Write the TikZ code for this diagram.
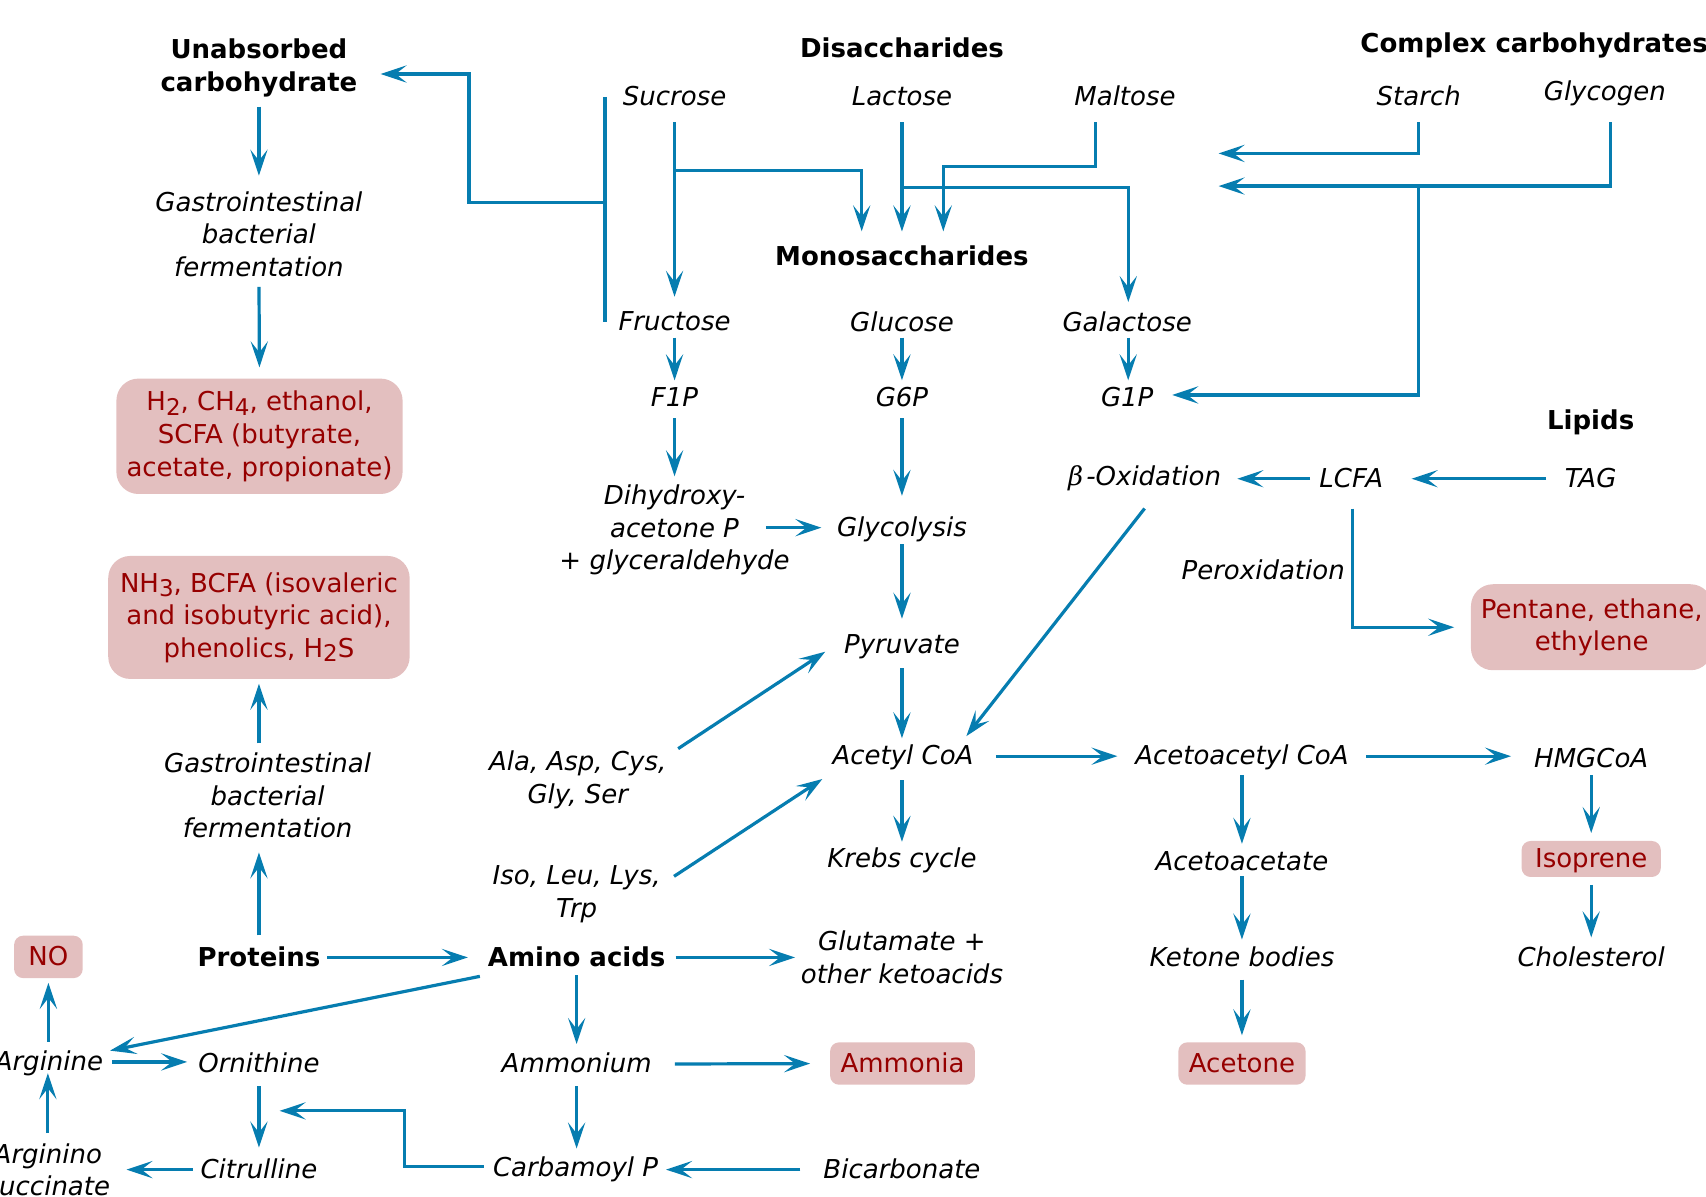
\documentclass[tikz,border=0pt]{standalone}
\usepackage{fontspec}
\setmainfont{DejaVu Sans}
\newfontfamily\dvserif{DejaVu Serif}
\usetikzlibrary{arrows.meta,calc}
\definecolor{ablue}{RGB}{6,125,176}
\definecolor{boxfill}{RGB}{227,191,191}
\definecolor{boxtext}{RGB}{150,0,0}
\newcommand\dfsize{\fontsize{13pt}{16.3pt}\selectfont}
\newcommand\lowidx[1]{\raisebox{-2.2pt}{\fontsize{11.5pt}{11.5pt}\selectfont #1}}
\tikzset{
 arr/.style={draw=ablue, line width=1.6pt, -{Stealth[length=13pt,width=8.6pt,inset=5.5pt]}},
 ln/.style={draw=ablue, line width=1.6pt},
 lab/.style={font=\dfsize\itshape, inner sep=0pt, text height=9.8pt, text depth=1.08pt},
 mlab/.style={font=\dfsize\itshape, inner sep=0pt, align=center},
 hd/.style={font=\dfsize\bfseries, inner sep=0pt, text height=9.8pt, text depth=1.08pt},
 mhd/.style={font=\dfsize\bfseries, inner sep=0pt, align=center},
 rbox/.style={font=\dfsize, fill=boxfill, text=boxtext, rounded corners=11pt, inner sep=0pt, align=center},
 sbox/.style={font=\dfsize, fill=boxfill, text=boxtext, rounded corners=4.5pt, inner sep=0pt, text height=9.8pt, text depth=1.08pt, minimum height=21.2pt},
}
\begin{document}
\begin{tikzpicture}[x=0.544pt,y=-0.544pt]
\useasboundingbox (0,0) rectangle (1568,1100);
% headers
\node[mhd] (unab) at (238,62.5) {Unabsorbed\\carbohydrate};
\node[hd] (disacc) at (829,45) {Disaccharides};
\node[hd] (complex) at (1410,40) {Complex carbohydrates};
\node[hd] (mono) at (829,236) {Monosaccharides};
\node[hd] (lipids) at (1462,387) {Lipids};
\node[hd] (prot) at (238,880) {Proteins};
\node[hd] (amino) at (530,880) {Amino acids};
% labels
\node[lab] (suc) at (620,89) {Sucrose};
\node[lab] (lac) at (829,89) {Lactose};
\node[lab] (mal) at (1034,89) {Maltose};
\node[lab] (sta) at (1304,89) {Starch};
\node[lab] (glyc) at (1475,84) {Glycogen};
\node[mlab] (gast1) at (238,215) {Gastrointestinal\\bacterial\\fermentation};
\node[lab] (fru) at (620,296) {Fructose};
\node[lab] (glu) at (829,297) {Glucose};
\node[lab] (gal) at (1036,297) {Galactose};
\node[lab] (f1p) at (620,366) {F1P};
\node[lab] (g6p) at (829,366) {G6P};
\node[lab] (g1p) at (1036,366) {G1P};
\node[lab] (box) at (1052,438) {{\dvserif\itshape β}\kern1.5pt-Oxidation};
\node[lab] (lcfa) at (1242,440) {LCFA};
\node[lab] (tag) at (1462,440) {TAG};
\node[mlab] (dih) at (620,487) {Dihydroxy-\\acetone P\\+ glyceraldehyde};
\node[lab] (glyl) at (829,485) {Glycolysis};
\node[lab] (perox) at (1161,525) {Peroxidation};
\node[lab] (pyr) at (829,593) {Pyruvate};
\node[lab] (acet) at (830,695) {Acetyl CoA};
\node[lab] (acac) at (1141.5,695) {Acetoacetyl CoA};
\node[lab] (hmg) at (1462.5,697) {HMGCoA};
\node[mlab] (ala) at (531,717) {Ala, Asp, Cys,\\Gly, Ser};
\node[lab] (krebs) at (829,789) {Krebs cycle};
\node[lab] (acacet) at (1141.5,792) {Acetoacetate};
\node[mlab] (iso) at (530,822) {Iso, Leu, Lys,\\Trp};
\node[mlab] (gast2) at (246,731) {Gastrointestinal\\bacterial\\fermentation};
\node[mlab] (glut) at (829,880) {Glutamate +\\other ketoacids};
\node[lab] (ket) at (1141.5,880) {Ketone bodies};
\node[lab] (chol) at (1462.5,880) {Cholesterol};
\node[lab] (arg) at (45,976) {Arginine};
\node[lab] (orn) at (238,978) {Ornithine};
\node[lab] (ammon) at (530,978) {Ammonium};
\node[mlab] (argsucc) at (44,1075) {Arginino\\succinate};
\node[lab] (citr) at (238,1075) {Citrulline};
\node[lab] (carb) at (529,1073) {Carbamoyl P};
\node[lab] (bicarb) at (829,1075) {Bicarbonate};
% red boxes
\node[rbox, minimum width=143.1pt, minimum height=57.7pt] (bxH) at (238.5,401) {H\lowidx{2}, CH\lowidx{4}, ethanol,\\SCFA (butyrate,\\acetate, propionate)};
\node[rbox, minimum width=150.7pt, minimum height=61.5pt] (bxN) at (238,567.5) {NH\lowidx{3}, BCFA (isovaleric\\and isobutyric acid),\\phenolics, H\lowidx{2}S};
\node[rbox, minimum width=120.8pt, minimum height=43pt] (bxP) at (1463,576.5) {Pentane, ethane,\\ethylene};
\node[sbox, minimum width=69.6pt, minimum height=18pt] (bxI) at (1462.5,789.5) {Isoprene};
\node[sbox, minimum width=34.3pt] (bxNO) at (44.5,879.5) {NO};
\node[sbox, minimum width=72.4pt] (bxAm) at (829.5,977.5) {Ammonia};
\node[sbox, minimum width=63.6pt] (bxAc) at (1141.5,977.5) {Acetone};
% free ends
\coordinate (se) at (1120,141);
\coordinate (ge) at (1120,171);
\coordinate (ue) at (257,1021);
% unabsorbed carbohydrate branch
\draw[ln] ([xshift=-8.7pt]suc.west) coordinate (bt) -- (bt |- fru.west);
\path (bt) ++(0,97) coordinate (bm);
\draw[arr] (bm) -- ++(-125,0) |- ([shift={(21,5.5)}]unab.east);
\draw[arr, shorten <=4.6pt, shorten >=7.6pt] (unab.south) -- (gast1.north);
\draw[arr, shorten <=4.9pt, shorten >=5.4pt] (gast1.south) -- (bxH.north);
% disaccharides
\draw[arr, shorten <=7pt, shorten >=7pt] (suc.south) -- (fru.north);
\draw[arr, shorten <=7pt, shorten >=7pt] (lac.south) -- (mono.north);
\draw[arr] (suc.south) ++(0,57) -| ([shift={(-37,-13)}]mono.north);
\draw[arr] (lac.south) ++(0,73) -| ([shift={(1,-9)}]gal.north);
\draw[arr] (mal.south) ++(-27,13) -- ++(0,41) -| ([shift={(38,-13)}]mono.north);
\draw[arr] (sta.south) ++(0,13) |- (se);
\draw[arr] (glyc.south) ++(5,18) |- (ge);
\draw[arr] (sta.south |- ge) |- ([shift={(17,-3)}]g1p.east);
% monosaccharides
\draw[arr, shorten <=2.2pt, shorten >=3.3pt] (fru.south) -- (f1p.north);
\draw[arr, shorten <=1.6pt, shorten >=3.3pt] (glu.south) -- (g6p.north);
\draw[arr, shorten <=1.6pt, shorten >=3.3pt] ([xshift=0.5pt]gal.south) -- ([xshift=0.5pt]g1p.north);
\draw[arr, shorten <=4.4pt, shorten >=4pt] (f1p.south) -- (dih.north);
\draw[arr, shorten <=4.4pt, shorten >=10.3pt] (g6p.south) -- (glyl.north);
\draw[arr, shorten >=7.6pt] ([shift={(84,-2)}]dih.center) -- (glyl.west);
\draw[arr, shorten <=2.7pt, shorten >=7.6pt] (glyl.south) -- (pyr.north);
\draw[arr, shorten <=6pt, shorten >=3.3pt] (pyr.south) -- (pyr.south |- acet.north);
\draw[arr, shorten <=6.5pt, shorten >=2.7pt] (acet.south -| krebs.north) -- (krebs.north);
% lipids
\draw[arr, shorten <=9.2pt, shorten >=14pt] (tag.west) -- (lcfa.east);
\draw[arr, shorten <=4.4pt, shorten >=8pt] (lcfa.west) -- (lcfa.west -| box.east);
\draw[arr] (lcfa.south) ++(1,17) |- ([xshift=-8.2pt]bxP.west);
\draw[arr] (box.south) ++(0,19) -- ([shift={(-7,-8)}]acet.north east);
% amino acids to pyruvate / acetyl CoA
\draw[arr] ([shift={(10.5,-2)}]ala.north east) -- ([shift={(-17,6)}]pyr.west);
\draw[arr] ([shift={(12,10)}]iso.north east) -- ([shift={(-9,21)}]acet.west);
% acetyl CoA onwards
\draw[arr, shorten <=11pt, shorten >=8.7pt] (acet.east) -- (acet.east -| acac.west);
\draw[arr, shorten <=8.7pt, shorten >=11.4pt] (acac.east) -- (acac.east -| hmg.west);
\draw[arr, shorten <=3.8pt, shorten >=3.3pt] (acac.south) -- (acacet.north);
\draw[arr, shorten <=1.6pt, shorten >=3.3pt] (acacet.south) -- (ket.north);
\draw[arr, shorten <=5.4pt, shorten >=3.3pt] (ket.south) -- (bxAc.north);
\draw[arr, shorten <=2.7pt, shorten >=3.8pt] (hmg.south) -- (bxI.north);
\draw[arr, shorten <=3.8pt, shorten >=4.4pt] (bxI.south) -- (chol.north);
% proteins
\draw[arr, shorten <=5.4pt, shorten >=7pt] (prot.north) -- (prot.north |- gast2.south);
\draw[arr, shorten <=4.4pt, shorten >=2.2pt] (gast2.north -| bxN.south) -- (bxN.south);
\draw[arr, shorten <=3.3pt, shorten >=9.8pt] (prot.east) -- (amino.west);
\draw[arr, shorten <=4.9pt, shorten >=2.7pt] (amino.east) -- (glut.west);
\draw[arr] ([shift={(-7,7)}]amino.south west) -- ([shift={(6,0)}]arg.north east);
\draw[arr, shorten <=3.3pt, shorten >=4.4pt] (amino.south) -- (ammon.north);
\draw[arr, shorten <=11.4pt, shorten >=9.8pt] (ammon.east) -- (bxAm.west);
\draw[arr, shorten <=5.4pt, shorten >=3.8pt] (ammon.south) -- (ammon.south |- carb.north);
\draw[arr, shorten <=11.4pt, shorten >=3.8pt] (bicarb.west) -- (bicarb.west -| carb.east);
\draw[arr] (carb.west) ++(-8,-1) -- ++(-73,0) |- (ue);
\draw[arr, shorten <=5.4pt, shorten >=5.4pt] (orn.south) -- (citr.north);
\draw[arr, shorten <=3.8pt, shorten >=8pt] (citr.west) -- (citr.west -| argsucc.east);
\draw[arr, shorten <=4.9pt] (argsucc.north) -- (argsucc.north |- arg.south);
\draw[arr, shorten <=4.4pt, shorten >=2.2pt] (arg.north -| bxNO.south) -- (bxNO.south);
\draw[arr, shorten <=4.4pt, shorten >=5.4pt] (arg.east) -- (arg.east -| orn.west);
\end{tikzpicture}
\end{document}
